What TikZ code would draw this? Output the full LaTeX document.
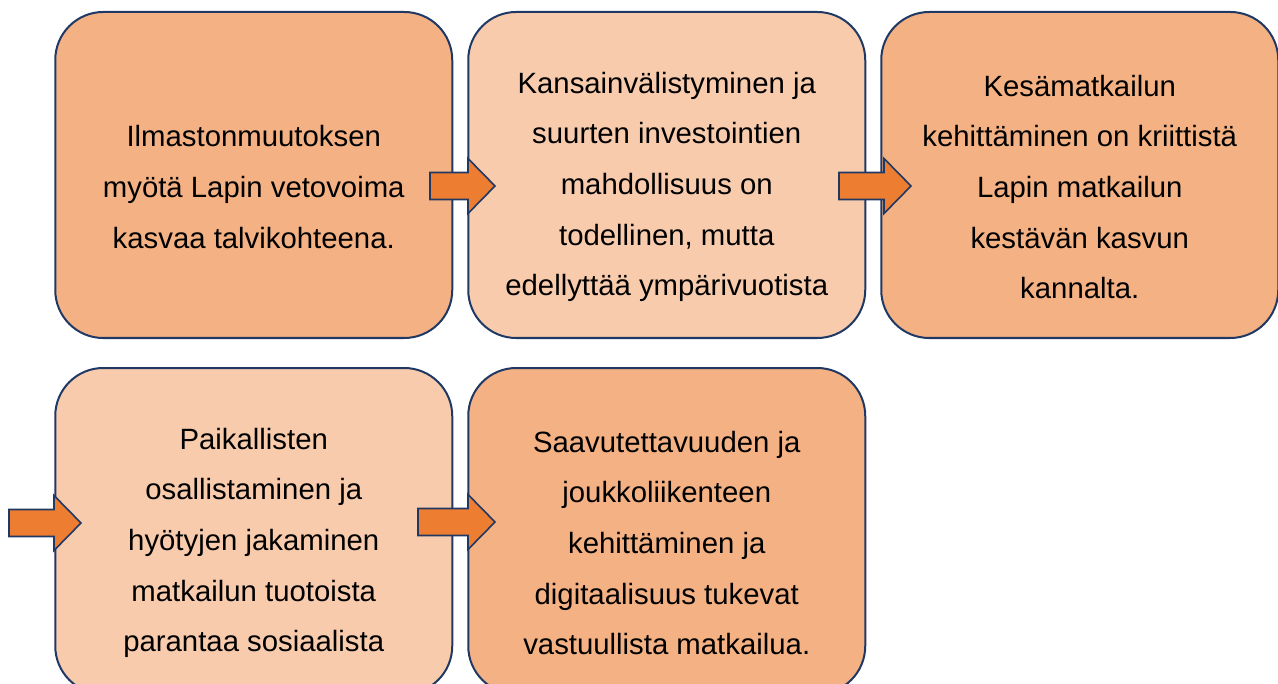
\documentclass[tikz,border=0pt]{standalone}
\usepackage{fontspec}
\setmainfont{Liberation Sans}
\usetikzlibrary{positioning}
\definecolor{darkbox}{HTML}{F4B183}
\definecolor{lightbox}{HTML}{F8CBAD}
\definecolor{edgeblue}{HTML}{1F3864}
\definecolor{arrowfill}{HTML}{ED7D31}
\tikzset{
  card/.style={draw=edgeblue, line width=1.5pt, rounded corners=36pt,
    minimum width=297.75pt, minimum height=244.5pt, inner sep=0pt},
  cardtext/.style={align=center, font=\fontsize{22}{38}\selectfont,
    inner sep=0pt, yshift=-9pt},
  blockarrow/.style={draw=edgeblue, line width=1.2pt, fill=arrowfill}
}

\begin{document}
\begin{tikzpicture}[x=0.75pt, y=-0.75pt]
    \useasboundingbox (0,0) rectangle (1278,684);
    \clip (0,0) rectangle (1278,684);
    % first row
    \node[card, fill=darkbox, label={[cardtext]center:Ilmastonmuutoksen\\myötä Lapin vetovoima\\kasvaa talvikohteena.}] (climate) at (253.75,175) {};
    \node[card, fill=lightbox, right=10.5pt of climate, label={[cardtext]center:Kansainvälistyminen ja\\suurten investointien\\mahdollisuus on\\todellinen, mutta\\edellyttää ympärivuotista}] (invest) {};
    \node[card, fill=darkbox, right=10.5pt of invest, label={[cardtext]center:Kesämatkailun\\kehittäminen on kriittistä\\Lapin matkailun\\kestävän kasvun\\kannalta.}] (summer) {};
    % second row
    \node[card, fill=lightbox, below=21pt of climate, label={[cardtext]center:Paikallisten\\osallistaminen ja\\hyötyjen jakaminen\\matkailun tuotoista\\parantaa sosiaalista}] (locals) {};
    \node[card, fill=darkbox, right=10.5pt of locals, label={[cardtext]center:Saavutettavuuden ja\\joukkoliikenteen\\kehittäminen ja\\digitaalisuus tukevat\\vastuullista matkailua.}] (access) {};
    % block arrows
    \foreach \a/\b/\y in {430/495/186, 839/911/186, 9/81/523, 418/495/522}
      \draw[blockarrow] (\a,\y-13.5) -- (\b-27,\y-13.5) -- (\b-27,\y-27.5) -- (\b,\y)
        -- (\b-27,\y+27.5) -- (\b-27,\y+13.5) -- (\a,\y+13.5) -- cycle;
\end{tikzpicture}
\end{document}
